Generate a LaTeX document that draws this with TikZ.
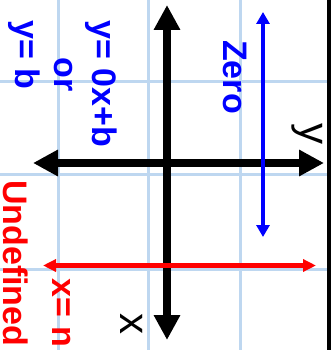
\documentclass[tikz,border=0pt]{standalone}
\usepackage{fontspec}
\setmainfont{Liberation Sans}
\usetikzlibrary{arrows.meta}
\definecolor{GridAzul}{RGB}{190,215,240}
\definecolor{PuroAzul}{RGB}{0,0,255}
\definecolor{PuroRojo}{RGB}{255,0,0}

\begin{document}
\begin{tikzpicture}[
    x=1pt, y=-1pt,
    lbl/.style={rotate=-90, inner sep=0pt, font=\fontsize{34}{40}\selectfont\bfseries},
    axlbl/.style={rotate=-90, inner sep=0pt, font=\fontsize{42}{48}\selectfont},
    axis/.style={{Triangle[length=25pt, width=25pt]}-{Triangle[length=25pt, width=25pt]}, line width=8pt, black},
    zarr/.style={{Triangle[length=12pt, width=13pt]}-{Triangle[length=12pt, width=13pt]}, line width=4pt, PuroAzul},
    uarr/.style={{Triangle[length=13pt, width=12pt]}-{Triangle[length=13pt, width=12pt]}, line width=5pt, PuroRojo},
    gridln/.style={GridAzul, line width=3pt}
]
    \useasboundingbox (0,0) rectangle (331,350);
    % grid
    \foreach \gx in {58,148,240} \draw[gridln] (\gx,0) -- (\gx,350);
    \foreach \gy in {82,174,269} \draw[gridln] (0,\gy) -- (331,\gy);
    \draw[line width=4pt] (329,0) -- (329,350);
    % axes
    \coordinate (ytop) at (167,5);
    \coordinate (ybot) at (167,340);
    \coordinate (xleft) at (33,163);
    \coordinate (xright) at (324,163);
    \draw[axis] (ybot) -- (ytop);
    \draw[axis] (xleft) -- (xright);
    \node[axlbl] (ylab) at (307,134) {y};
    \node[axlbl] (xlab) at (132,324) {x};
    % zero slope
    \coordinate (ztop) at (263,12);
    \coordinate (zbot) at (263,237);
    \draw[zarr] (zbot) -- (ztop);
    \node[lbl, PuroAzul] (zero) at (235,77) {Zero};
    \node[lbl, PuroAzul, anchor=west] (pend) at (101,20) {y= 0x+b};
    \node[lbl, PuroAzul] (o) at (63,75) {or};
    \node[lbl, PuroAzul, anchor=west] (ycte) at (24,20) {y= b};
    % undefined slope
    \coordinate (uleft) at (43,265.5);
    \coordinate (uright) at (316,265.5);
    \draw[uarr] (uleft) -- (uright);
    \node[lbl, PuroRojo, anchor=west] (indef) at (16,180) {Undefined};
    \node[lbl, PuroRojo, anchor=west] (xcte) at (62,278) {x= n};
\end{tikzpicture}
\end{document}
